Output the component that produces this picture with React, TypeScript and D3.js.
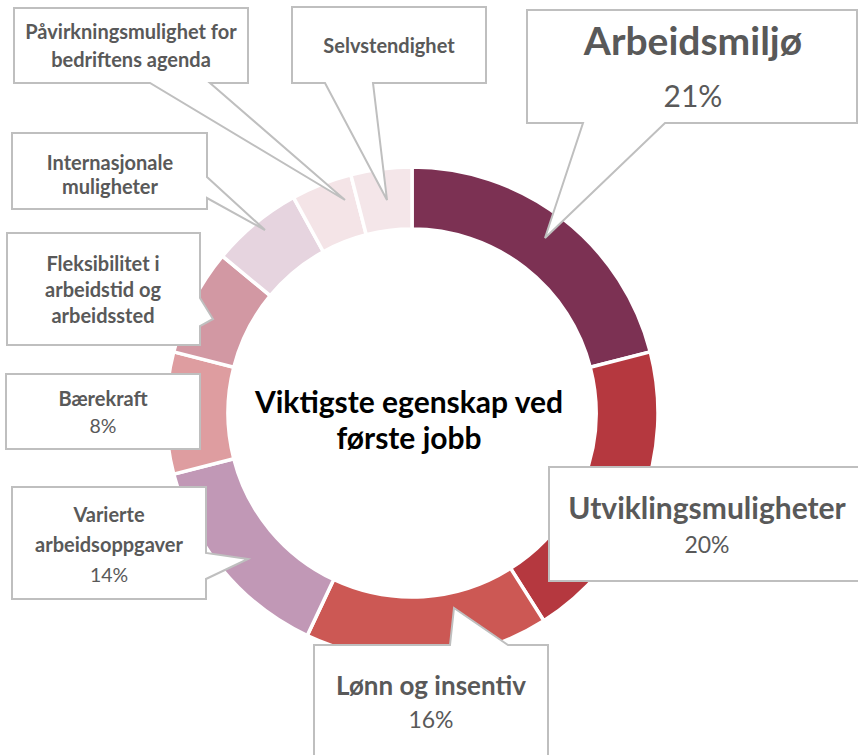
import React from "react";
import * as d3 from "d3";

const categories = [
  "Arbeidsmiljø",
  "Utviklingsmuligheter",
  "Lønn og insentiv",
  "Varierte arbeidsoppgaver",
  "Bærekraft",
  "Fleksibilitet i arbeidstid og arbeidssted",
  "Internasjonale muligheter",
  "Påvirkningsmulighet for bedriftens agenda",
  "Selvstendighet",
];
const values = [21, 20, 16, 14, 8, 7, 6, 4, 4];
const labelLines = [
  ["Arbeidsmiljø"],
  ["Utviklingsmuligheter"],
  ["Lønn og insentiv"],
  ["Varierte", "arbeidsoppgaver"],
  ["Bærekraft"],
  ["Fleksibilitet i", "arbeidstid og", "arbeidssted"],
  ["Internasjonale", "muligheter"],
  ["Påvirkningsmulighet for", "bedriftens agenda"],
  ["Selvstendighet"],
];
const showValue = [true, true, true, true, true, false, false, false, false];
const colors = [
  "#7C3153",
  "#B5383F",
  "#CC5854",
  "#C198B6",
  "#DE9DA0",
  "#D298A3",
  "#E6D4DF",
  "#F4E4E7",
  "#F4E6E9",
];
const title = ["Viktigste egenskap ved", "første jobb"];

// layout (positions/styles only)
type Callout = {
  x0: number; y0: number; x1: number; y1: number;
  side?: "top" | "bottom" | "right";
  a?: number; b?: number; tip?: [number, number];
  cx: number; base: number; lh: number; fs: number; vfs: number; vgap: number;
};
const layout: Callout[] = [
  { x0: 527, y0: 10, x1: 857, y1: 123, side: "bottom", a: 583, b: 665, tip: [545, 238], cx: 693, base: 55, lh: 40, fs: 39, vfs: 30, vgap: 52 },
  { x0: 549, y0: 467, x1: 860, y1: 581, cx: 707, base: 519, lh: 28, fs: 30, vfs: 23, vgap: 34 },
  { x0: 314, y0: 645, x1: 548, y1: 762, side: "top", a: 450, b: 508, tip: [454, 608], cx: 431, base: 695, lh: 28, fs: 26, vfs: 23, vgap: 33 },
  { x0: 12, y0: 487, x1: 206, y1: 599, side: "right", a: 553, b: 579, tip: [248, 559], cx: 109, base: 522, lh: 30, fs: 20, vfs: 19.5, vgap: 30 },
  { x0: 6, y0: 374, x1: 200, y1: 449, cx: 103, base: 406, lh: 28, fs: 20, vfs: 19.5, vgap: 27 },
  { x0: 7, y0: 233, x1: 200, y1: 345, side: "right", a: 298, b: 326, tip: [213, 319], cx: 103, base: 271, lh: 26, fs: 20, vfs: 19.5, vgap: 26 },
  { x0: 12, y0: 133, x1: 207, y1: 209, side: "right", a: 177, b: 198, tip: [265, 230], cx: 110, base: 170, lh: 24, fs: 20, vfs: 19.5, vgap: 24 },
  { x0: 14, y0: 8, x1: 248, y1: 83, side: "bottom", a: 150, b: 210, tip: [345, 200], cx: 131, base: 39, lh: 28, fs: 20, vfs: 19.5, vgap: 28 },
  { x0: 292, y0: 7, x1: 486, y1: 83, side: "bottom", a: 325, b: 373, tip: [387, 200], cx: 389, base: 53, lh: 28, fs: 20, vfs: 19.5, vgap: 28 },
];

function calloutPath(c: Callout): string {
  const p = d3.path();
  p.moveTo(c.x0, c.y0);
  if (c.side === "top" && c.tip) {
    p.lineTo(c.a!, c.y0);
    p.lineTo(c.tip[0], c.tip[1]);
    p.lineTo(c.b!, c.y0);
  }
  p.lineTo(c.x1, c.y0);
  if (c.side === "right" && c.tip) {
    p.lineTo(c.x1, c.a!);
    p.lineTo(c.tip[0], c.tip[1]);
    p.lineTo(c.x1, c.b!);
  }
  p.lineTo(c.x1, c.y1);
  if (c.side === "bottom" && c.tip) {
    p.lineTo(c.b!, c.y1);
    p.lineTo(c.tip[0], c.tip[1]);
    p.lineTo(c.a!, c.y1);
  }
  p.lineTo(c.x0, c.y1);
  p.closePath();
  return p.toString();
}

const W = 858;
const H = 755;
const CX = 412;
const CY = 413;
const R_OUT = 246;
const R_IN = 184;

export default function App() {
  const pie = d3
    .pie<number>()
    .sort(null)
    .value((d) => d)
    .startAngle(0)
    .endAngle(2 * Math.PI);
  const arcs = pie(values);
  const arc = d3.arc<d3.PieArcDatum<number>>().innerRadius(R_IN).outerRadius(R_OUT);
  const total = d3.sum(values);
  const fmt = d3.format(".0%");
  const font = "Lato, 'Open Sans', sans-serif";

  return (
    <svg
      width={W}
      height={H}
      style={{ position: "absolute", left: 0, top: 0, background: "#fff" }}
      fontFamily={font}
    >
      <rect x={0} y={0} width={W} height={H} fill="#fff" />
      <g transform={`translate(${CX},${CY})`}>
        {arcs.map((a, i) => (
          <path key={categories[i]} d={arc(a) || ""} fill={colors[i]} stroke="#fff" strokeWidth={3.5} />
        ))}
      </g>
      <text textAnchor="middle" fontWeight={700} fontSize={30} fill="#000">
        {title.map((t, i) => (
          <tspan key={i} x={409} y={413 + i * 36}>
            {t}
          </tspan>
        ))}
      </text>
      {layout.map((c, i) => (
        <g key={"c" + i}>
          <path d={calloutPath(c)} fill="#fff" stroke="#BFBFBF" strokeWidth={2} strokeLinejoin="miter" />
          <text textAnchor="middle" fill="#595959">
            {labelLines[i].map((l, j) => (
              <tspan key={j} x={c.cx} y={c.base + j * c.lh} fontWeight={700} fontSize={c.fs}>
                {l}
              </tspan>
            ))}
            {showValue[i] && (
              <tspan
                x={c.cx}
                y={c.base + (labelLines[i].length - 1) * c.lh + c.vgap}
                fontWeight={400}
                fontSize={c.vfs}
              >
                {fmt(values[i] / total)}
              </tspan>
            )}
          </text>
        </g>
      ))}
    </svg>
  );
}
